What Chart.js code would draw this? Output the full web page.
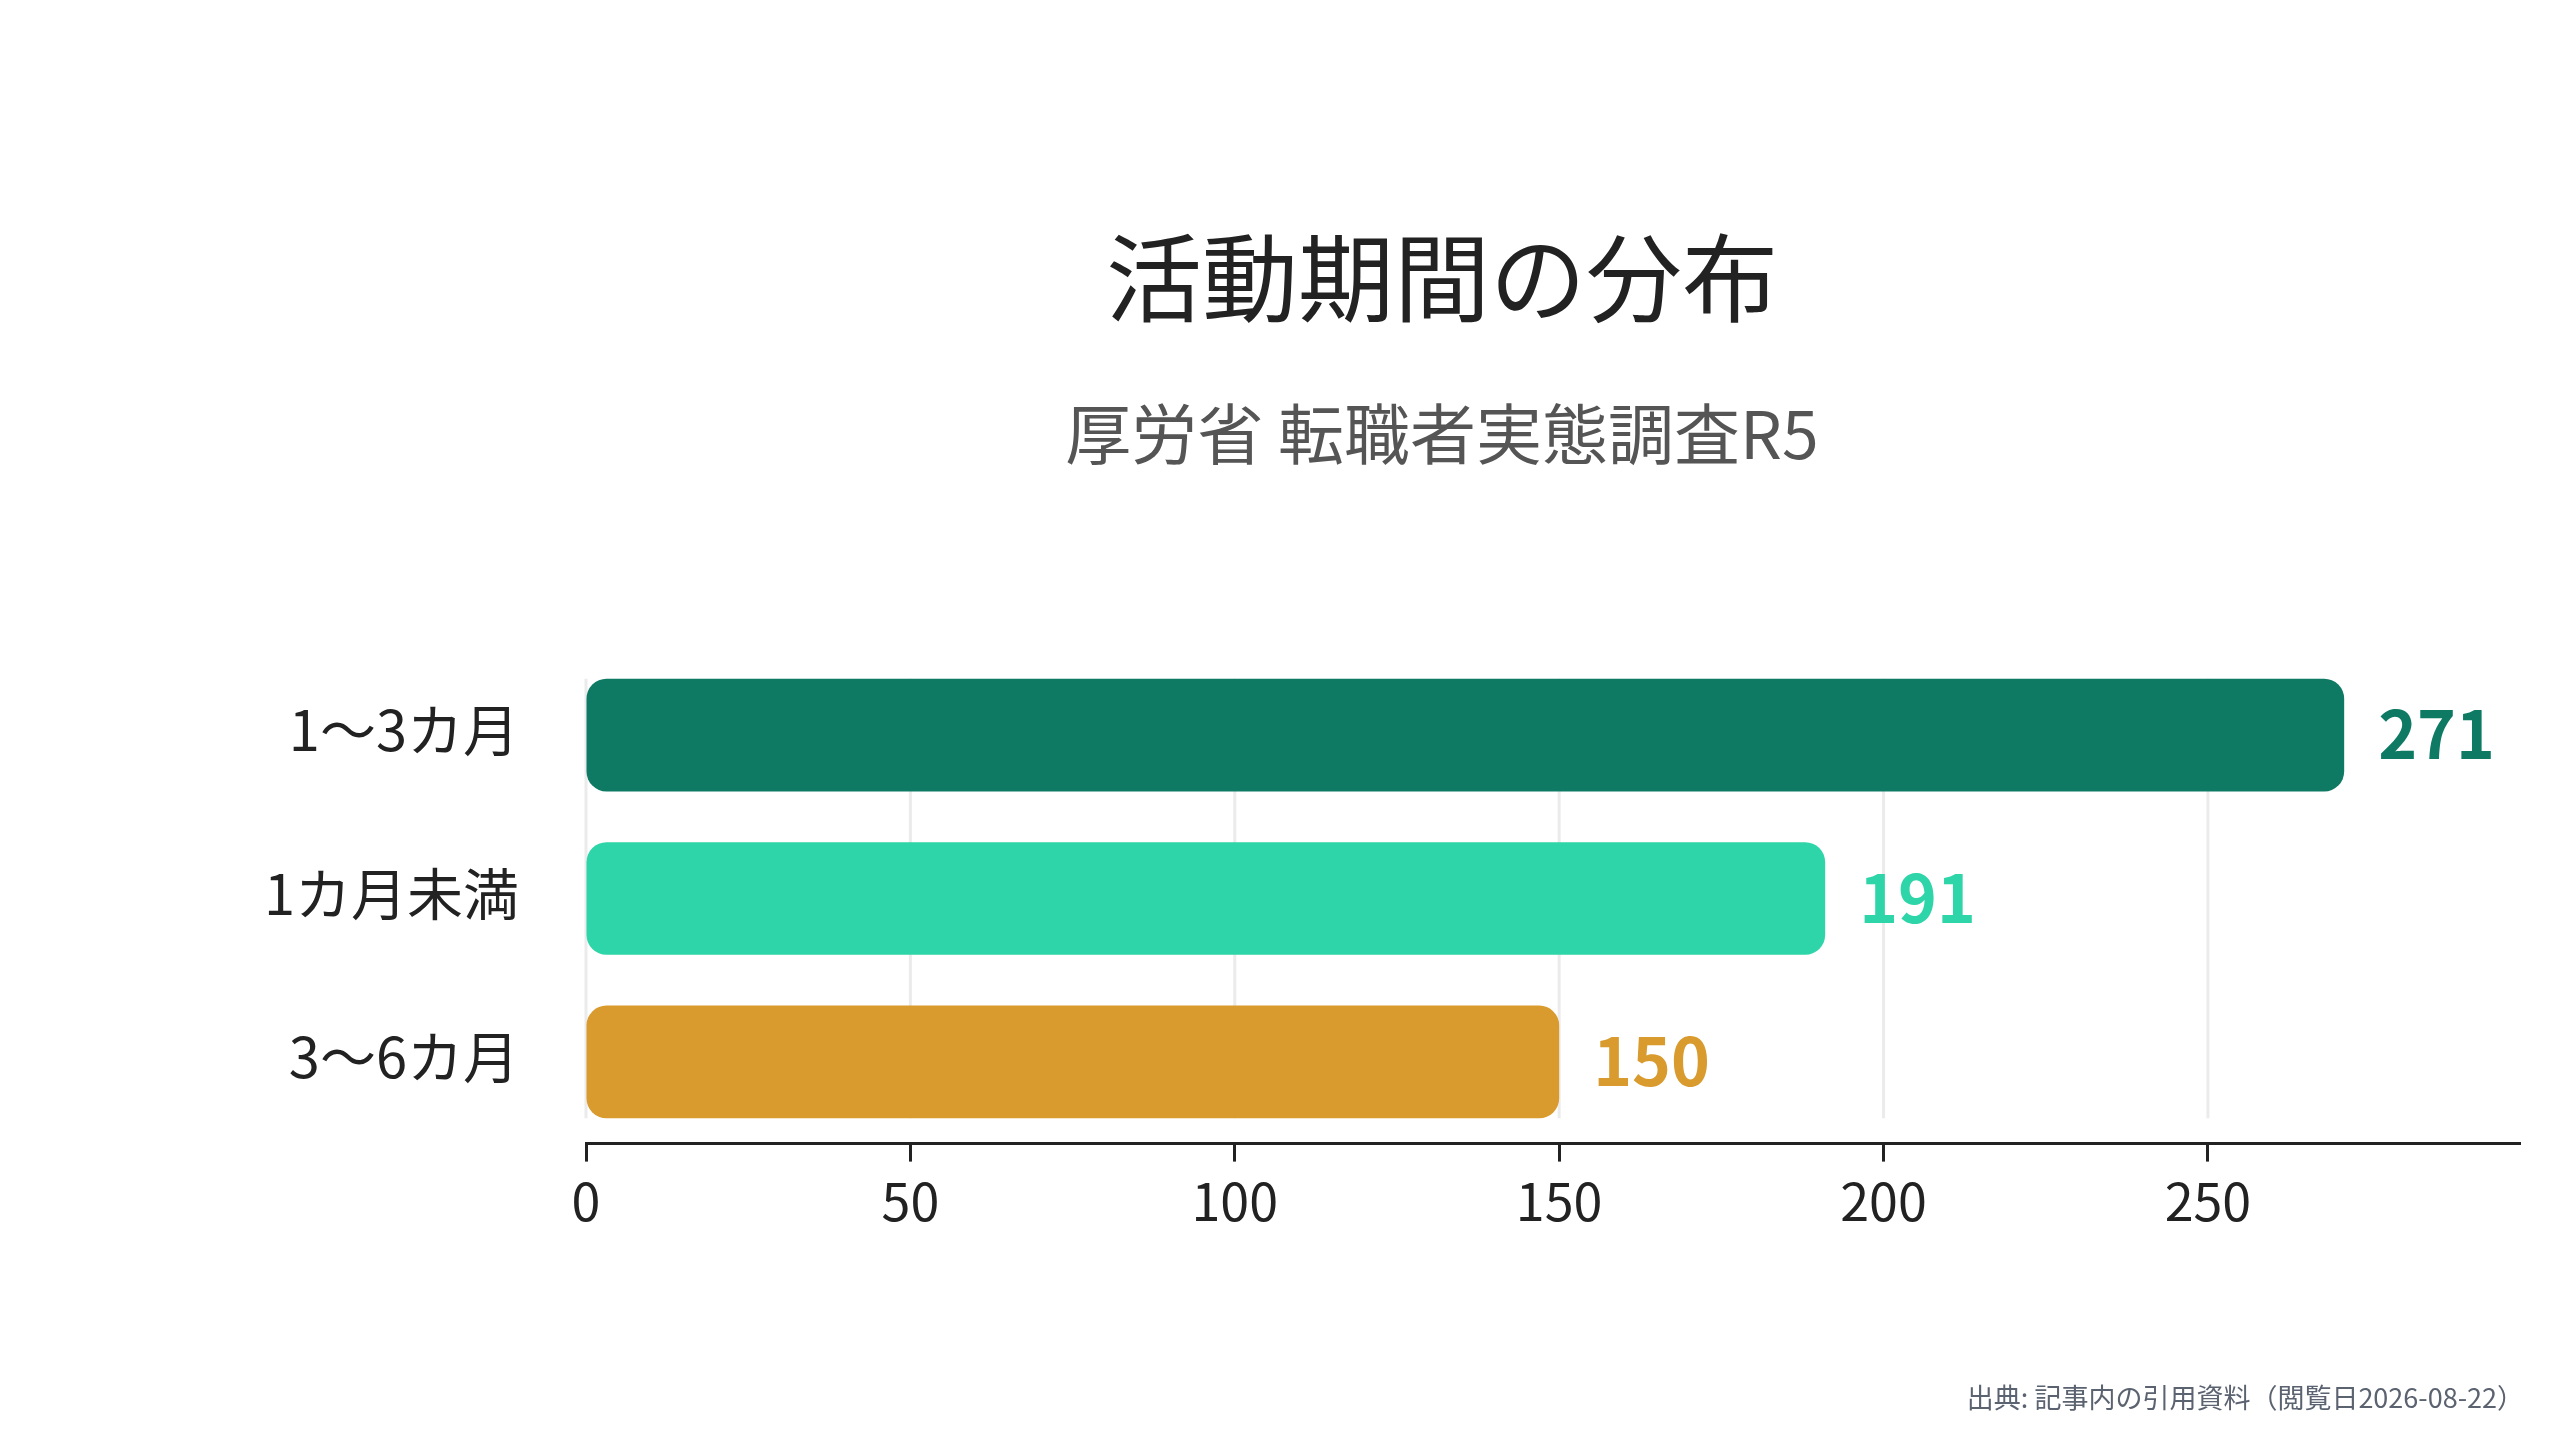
<!DOCTYPE html>
<html lang="ja">
<head>
<meta charset="utf-8">
<title>活動期間の分布</title>
<script src="https://cdn.jsdelivr.net/npm/chart.js@4.4.1/dist/chart.umd.min.js"></script>
<style>
  html, body { margin: 0; padding: 0; background: #fff; }
  #wrap { position: relative; width: 2560px; height: 1440px; }
  #source {
    position: absolute; right: 36px; top: 1379px;
    font: 27px/36px "Noto Sans CJK JP", "Noto Sans", sans-serif;
    color: #5b6270;
  }
</style>
</head>
<body>
<div id="wrap">
  <canvas id="chart" width="2560" height="1440"></canvas>
  <div id="source">出典: 記事内の引用資料（閲覧日2026-08-22）</div>
</div>
<script>
// data
const categories = ['1〜3カ月', '1カ月未満', '3〜6カ月'];
const counts = [271, 191, 150];
const barColors = ['#0f7a64', '#2ed5a8', '#d99a2e'];
const xTickValues = [0, 50, 100, 150, 200, 250];

const titleText = '活動期間の分布';
const subtitleText = '厚労省 転職者実態調査R5';

Chart.defaults.font.family = '"Noto Sans CJK JP", "Noto Sans", sans-serif';

// light grid lines, only over the band where the bars sit
const barGrid = {
    id: 'barGrid',
    beforeDatasetsDraw(chart) {
        const meta = chart.getDatasetMeta(0);
        const first = meta.data[0];
        const last = meta.data[meta.data.length - 1];
        const top = first.y - first.height / 2;
        const bottom = last.y + last.height / 2;
        const xScale = chart.scales.x;
        const ctx = chart.ctx;
        ctx.save();
        ctx.strokeStyle = '#ebebeb';
        ctx.lineWidth = 3;
        xScale.ticks.forEach(t => {
            const x = xScale.getPixelForValue(t.value);
            ctx.beginPath();
            ctx.moveTo(x, top);
            ctx.lineTo(x, bottom);
            ctx.stroke();
        });
        ctx.restore();
    }
};

// value at the end of every bar, same colour as the bar
const valueLabels = {
    id: 'valueLabels',
    afterDatasetsDraw(chart) {
        const meta = chart.getDatasetMeta(0);
        const ctx = chart.ctx;
        ctx.save();
        ctx.font = 'bold 66px "Noto Sans CJK JP", "Noto Sans", sans-serif';
        ctx.textAlign = 'left';
        ctx.textBaseline = 'middle';
        meta.data.forEach((bar, i) => {
            ctx.fillStyle = barColors[i];
            ctx.fillText(String(counts[i]), bar.x + 34, bar.y - 1);
        });
        ctx.restore();
    }
};

// the y axis is squeezed so the title centres like the original;
// widen its box again afterwards so the category labels are not clipped
const labelRoom = {
    id: 'labelRoom',
    afterLayout(chart) {
        const y = chart.scales.y;
        y.left = 0;
    }
};

const chartData = {
    labels: categories,
    datasets: [{
        data: counts,
        backgroundColor: barColors,
        borderRadius: 20,
        borderSkipped: false,
        barPercentage: 0.69,
        categoryPercentage: 1.0
    }]
};

const chartConfig = {
    type: 'bar',
    data: chartData,
    options: {
        indexAxis: 'y',
        responsive: false,
        animation: false,
        devicePixelRatio: 1,
        layout: {
            padding: { top: 160, left: 364, right: 40, bottom: 200 }
        },
        plugins: {
            legend: { display: false },
            tooltip: { enabled: false },
            title: {
                display: true,
                text: titleText,
                color: '#222222',
                font: { size: 96, weight: 'normal' },
                padding: { top: 60, bottom: 0 }
            },
            subtitle: {
                display: true,
                text: subtitleText,
                color: '#555555',
                font: { size: 66, weight: 'normal' },
                padding: { top: 59, bottom: 180 }
            }
        },
        scales: {
            x: {
                min: 0,
                max: Math.max(...counts) * 1.1,
                afterBuildTicks: (axis) => {
                    axis.ticks = xTickValues.map(v => ({ value: v }));
                },
                grid: {
                    drawOnChartArea: false,
                    drawTicks: true,
                    tickLength: 18,
                    tickColor: '#222222',
                    tickWidth: 3
                },
                border: { display: true, color: '#222222', width: 3 },
                ticks: {
                    padding: 8,
                    color: '#222222',
                    font: { size: 52 }
                }
            },
            y: {
                grid: { display: false, drawTicks: false },
                border: { display: false },
                ticks: {
                    padding: 67,
                    labelOffset: -5,
                    color: '#222222',
                    font: { size: 56 }
                },
                afterFit: (scale) => { scale.width = 222; }
            }
        }
    },
    plugins: [barGrid, valueLabels, labelRoom]
};

const chart = new Chart(document.getElementById('chart'), chartConfig);
</script>
</body>
</html>
